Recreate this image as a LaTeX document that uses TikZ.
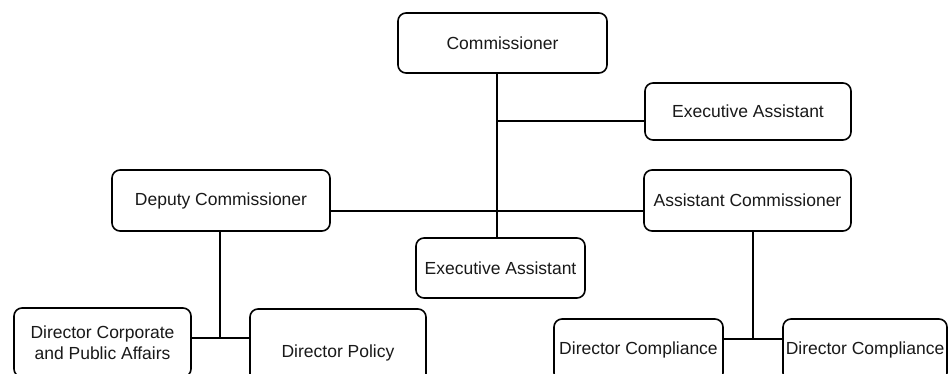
\documentclass[tikz,border=0pt]{standalone}
\usepackage{fontspec}
\setmainfont{Liberation Sans}
\begin{document}
\begin{tikzpicture}[x=1pt,y=-1pt,
  box/.style={draw=black, line width=1.6pt, rounded corners=8pt, inner sep=0pt,
    align=center, font=\fontsize{17.5}{21}\selectfont, text=black!90},
  conn/.style={draw=black, line width=1.6pt}]
\useasboundingbox (0,0) rectangle (949,374);
\clip (0,0) rectangle (949,374);
\fill[white] (0,0) rectangle (949,374);
\node[box, minimum width=209pt, minimum height=60pt] (comm) at (502.5,43) {Commissioner};
\node[box, minimum width=206pt, minimum height=57pt] (eatop) at (748,111.5) {Executive Assistant};
\node[box, minimum width=218pt, minimum height=61pt] (dep) at (221,200.5) {Deputy Commissioner};
\node[box, minimum width=207pt, minimum height=61pt] (asst) at (747.5,200.5) {Assistant Commissioner};
\node[box, minimum width=169pt, minimum height=60pt] (eamid) at (500.5,268) {Executive Assistant};
\node[box, minimum width=177pt, minimum height=69pt] (dcorp) at (102.5,342.5) {Director Corporate\\and Public Affairs};
\node[box, minimum width=176pt, minimum height=88pt] (dpol) at (338,353) {Director Policy};
\node[box, minimum width=169pt, minimum height=62pt] (dc1) at (638.5,350) {Director Compliance};
\node[box, minimum width=164pt, minimum height=62pt] (dc2) at (865,350) {Director Compliance};
\coordinate (jc) at (497,121);
\coordinate (jd) at (220,338);
\coordinate (ja) at (753,339);
\draw[conn] (comm.south -| jc) -- (eamid.north -| jc);
\draw[conn] (jc) -- (eatop.west |- jc);
\draw[conn] (dep.east |- 0,211) -- (asst.west |- 0,211);
\draw[conn] (dep.south -| jd) -- (jd);
\draw[conn] (dcorp.east |- jd) -- (dpol.west |- jd);
\draw[conn] (asst.south -| ja) -- (ja);
\draw[conn] (dc1.east |- ja) -- (dc2.west |- ja);
\end{tikzpicture}
\end{document}
